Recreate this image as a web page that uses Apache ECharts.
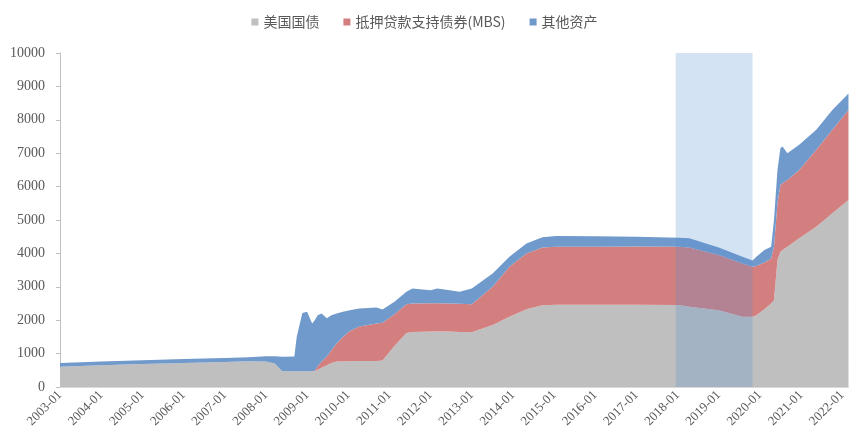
<!DOCTYPE html>
<html>
<head>
<meta charset="utf-8">
<title>美联储资产负债表</title>
<script src="https://cdn.jsdelivr.net/npm/echarts@6/dist/echarts.min.js"></script>
<style>
  html, body { margin: 0; padding: 0; background: #fff; }
  #chart { width: 849px; height: 439px; }
</style>
</head>
<body>
<div id="chart"></div>
<script>
// 日期（读图估计的拐点）
const dates = [
  "2003-01-01", "2004-01-01", "2005-01-01", "2006-01-01", "2007-01-01", "2007-08-01",
  "2008-01-01", "2008-03-20", "2008-05-25", "2008-09-10", "2008-10-01", "2008-11-20",
  "2009-01-01", "2009-02-15", "2009-03-10", "2009-04-05", "2009-05-10", "2009-06-25",
  "2009-08-05", "2009-09-20", "2009-11-15", "2010-01-15", "2010-04-10", "2010-09-10",
  "2010-11-01", "2011-02-15", "2011-06-01", "2011-07-25", "2012-01-01", "2012-03-01",
  "2012-06-20", "2012-09-15", "2013-01-01", "2013-07-05", "2013-12-01", "2014-05-01",
  "2014-09-20", "2015-01-20", "2016-01-01", "2017-01-01", "2018-01-15", "2018-04-15",
  "2019-01-01", "2019-07-30", "2019-10-28", "2019-12-01", "2020-02-10", "2020-04-10",
  "2020-05-05", "2020-06-05", "2020-07-01", "2020-07-20", "2020-09-01", "2020-12-15",
  "2021-05-15", "2021-10-05", "2022-02-25"
];
// 美国国债（十亿美元）
const treasuries = [
  610, 650, 690, 720, 750, 770,
  760, 700, 470, 470, 470, 470,
  470, 470, 475, 520, 580, 650,
  720, 760, 765, 770, 775, 775,
  790, 1230, 1620, 1650, 1660, 1660,
  1660, 1650, 1640, 1860, 2100, 2330,
  2450, 2460, 2460, 2460, 2455, 2400,
  2300, 2105, 2100, 2150, 2330, 2500,
  2600, 3800, 4050, 4100, 4200, 4450,
  4800, 5200, 5600
];
// 抵押贷款支持债券(MBS)
const mbs = [
  0, 0, 0, 0, 0, 0,
  0, 0, 0, 0, 0, 0,
  0, 0, 15, 100, 180, 260,
  380, 540, 735, 910, 1035, 1125,
  1130, 950, 860, 850, 850, 850,
  840, 840, 840, 1140, 1500, 1670,
  1730, 1740, 1740, 1745, 1745, 1780,
  1650, 1595, 1500, 1470, 1400, 1350,
  1600, 1700, 2000, 2000, 2000, 2050,
  2300, 2500, 2690
];
// 其他资产
const others = [
  110, 115, 110, 115, 115, 120,
  160, 220, 435, 440, 1030, 1745,
  1780, 1430, 1510, 1530, 1440, 1150,
  1050, 900, 750, 620, 540, 480,
  400, 370, 370, 450, 390, 440,
  400, 360, 470, 400, 300, 300,
  300, 320, 310, 290, 270, 270,
  230, 200, 190, 280, 370, 350,
  800, 1000, 1100, 1100, 800, 750,
  600, 590, 500
];
// 阴影区间（缩表期）
const shadeStart = "2017-12-15";
const shadeEnd = "2019-10-28";

const axisMin = "2003-01-01";
const axisMax = "2022-02-25";

const YEAR_MS = 365 * 24 * 3600 * 1000;
const labelColor = "#595959";
const numFont = '"Liberation Serif", "Times New Roman", "DejaVu Serif", serif';

function pairs(values) {
  return dates.map((d, i) => [d, values[i]]);
}

function areaSeries(name, color, values) {
  return {
    name: name,
    type: "line",
    stack: "total",
    symbol: "none",
    showSymbol: false,
    sampling: "none",
    lineStyle: { width: 0 },
    areaStyle: { color: color, opacity: 1 },
    itemStyle: { color: color },
    data: pairs(values),
  };
}

let myChart = echarts.init(document.getElementById("chart"));

let series = [
  areaSeries("美国国债", "#bfbfbf", treasuries),
  areaSeries("抵押贷款支持债券(MBS)", "#d47f7f", mbs),
  areaSeries("其他资产", "#7099cc", others),
];

// 阴影放在最上层
series[2].markArea = {
  silent: true,
  z: 10,
  itemStyle: { color: "rgba(79,143,207,0.25)" },
  data: [[{ xAxis: shadeStart }, { xAxis: shadeEnd }]],
};

let option = {
  animation: false,
  legend: {
    top: 10,
    left: "center",
    icon: "rect",
    itemWidth: 7,
    itemHeight: 7,
    itemGap: 24,
    data: ["美国国债", "抵押贷款支持债券(MBS)", "其他资产"],
    textStyle: {
      color: labelColor,
      fontSize: 14,
      fontFamily: "Noto Sans CJK SC",
    },
  },
  grid: {
    left: 60,
    right: 0,
    top: 53,
    bottom: 52,
  },
  xAxis: {
    type: "time",
    min: axisMin,
    max: axisMax,
    minInterval: YEAR_MS,
    maxInterval: YEAR_MS,
    splitLine: { show: false },
    axisTick: { show: false },
    axisLine: { show: true, lineStyle: { color: "#d9d9d9" } },
    axisLabel: {
      rotate: 45,
      margin: 6,
      color: labelColor,
      fontSize: 13,
      fontFamily: numFont,
      hideOverlap: false,
      formatter: function (value) {
        let d = new Date(value);
        if (d.getMonth() !== 0 || d.getDate() !== 1) return "";
        return d.getFullYear() + "-01";
      },
    },
  },
  yAxis: {
    type: "value",
    min: 0,
    max: 10000,
    interval: 1000,
    splitLine: { show: false },
    axisLine: { show: true, lineStyle: { color: "#bfbfbf" } },
    axisTick: { show: true, length: 4, lineStyle: { color: "#bfbfbf" } },
    axisLabel: {
      margin: 15,
      color: labelColor,
      fontSize: 14,
      fontFamily: numFont,
      formatter: function (v) {
        return String(v);
      },
    },
  },
  series: series,
};

myChart.setOption(option, true);

window.addEventListener("resize", () => {
  myChart.resize();
});
</script>
</body>
</html>
